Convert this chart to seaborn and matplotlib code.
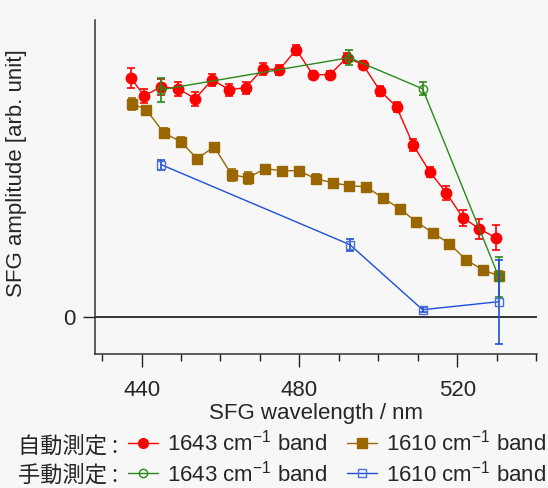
import matplotlib
matplotlib.use("Agg")
import matplotlib.pyplot as plt
import seaborn as sns
import pandas as pd
import numpy as np
from matplotlib.ticker import MultipleLocator, FixedLocator
from matplotlib.lines import Line2D

sns.set_theme(style="white")
plt.rcParams['font.family'] = ['Liberation Sans', 'Noto Sans CJK JP', 'DejaVu Sans']
plt.rcParams['mathtext.fontset'] = 'custom'
plt.rcParams['mathtext.rm'] = 'Liberation Sans'
plt.rcParams['mathtext.it'] = 'Liberation Sans'

# --- data (arb. units) ---
auto_1643_x = [437.2, 440.7, 445.0, 449.3, 453.6, 457.9, 462.2, 466.4, 470.7, 474.9, 479.2, 483.4,
               487.7, 492.0, 496.1, 500.4, 504.6, 508.8, 513.0, 517.2, 521.4, 525.6, 529.7]
auto_1643_y = [2.39, 2.21, 2.30, 2.28, 2.18, 2.37, 2.27, 2.29, 2.48, 2.47, 2.67, 2.42,
               2.42, 2.59, 2.52, 2.26, 2.10, 1.72, 1.45, 1.24, 0.99, 0.88, 0.79]
auto_1643_e = [0.10, 0.07, 0.08, 0.07, 0.07, 0.06, 0.06, 0.06, 0.06, 0.05, 0.05, 0.04,
               0.04, 0.05, 0.04, 0.05, 0.05, 0.06, 0.05, 0.07, 0.08, 0.10, 0.125]

auto_1610_x = [437.7, 441.2, 445.6, 449.9, 454.1, 458.4, 462.8, 467.0, 471.3, 475.6, 479.8, 484.1,
               488.4, 492.6, 496.8, 501.1, 505.4, 509.6, 513.8, 518.0, 522.2, 526.4, 530.5]
auto_1610_y = [2.13, 2.07, 1.84, 1.75, 1.58, 1.70, 1.42, 1.39, 1.48, 1.46, 1.46, 1.38,
               1.34, 1.31, 1.30, 1.19, 1.08, 0.95, 0.84, 0.73, 0.57, 0.47, 0.41]
auto_1610_e = [0.06, 0.03, 0.05, 0.05, 0.03, 0.03, 0.06, 0.06, 0.04, 0.03, 0.03, 0.05,
               0.03, 0.02, 0.02, 0.02, 0.02, 0.02, 0.02, 0.02, 0.02, 0.02, 0.05]

manual_1643_x = [445.0, 492.6, 511.2, 530.5]
manual_1643_y = [2.27, 2.59, 2.28, 0.40]
manual_1643_e = [0.12, 0.075, 0.065, 0.20]

manual_1610_x = [445.0, 492.8, 511.2, 530.5]
manual_1610_y = [1.52, 0.72, 0.07, 0.15]
manual_1610_e = [0.05, 0.06, 0.027, 0.42]

x_ticks = [440, 480, 520]
y_ticks = [0]

RED = '#ff0000'
BROWN = '#996600'
GREEN = '#2a8a1a'
BLUE = '#1f4fd8'
BLUE_M = '#4a6fd8'
BG = '#f7f7f7'
FS = 16

fig = plt.figure(figsize=(5.48, 4.88), dpi=100, facecolor=BG)
ax = fig.add_axes([95/548, 1-354/488, 442/548, 334/488])
ax.set_facecolor(BG)

def draw(xs, ys, es, color, marker, ms, mfc, mec, zo, label):
    df = pd.DataFrame({'x': xs, 'y': ys})
    ax.errorbar(xs, ys, yerr=es, fmt='none', ecolor=color, elinewidth=1.2,
                capsize=3, capthick=1.2, zorder=zo)
    sns.lineplot(data=df, x='x', y='y', ax=ax, color=color, lw=1.0, sort=False,
                 marker=marker, markersize=ms, markerfacecolor=mfc, markeredgecolor=mec,
                 markeredgewidth=1.0, zorder=zo + 0.1, label=label, legend=False)

draw(auto_1610_x, auto_1610_y, auto_1610_e, BROWN, 's', 7, BROWN, BROWN, 3, '1610a')
draw(auto_1643_x, auto_1643_y, auto_1643_e, RED, 'o', 7.5, RED, RED, 4, '1643a')
draw(manual_1643_x, manual_1643_y, manual_1643_e, GREEN, 'o', 6, 'none', GREEN, 5, '1643m')
draw(manual_1610_x, manual_1610_y, manual_1610_e, BLUE, 's', 6, 'none', BLUE_M, 6, '1610m')

ax.axhline(0, color='black', lw=1.1, zorder=2)

ax.set_xlim(428.2, 540.2)
ax.set_ylim(-0.373, 2.967)
ax.xaxis.set_major_locator(FixedLocator(x_ticks))
ax.xaxis.set_minor_locator(MultipleLocator(10))
ax.yaxis.set_major_locator(FixedLocator(y_ticks))
ax.tick_params(axis='x', which='major', direction='out', length=9, width=1, color='#222222',
               labelsize=FS, pad=10, bottom=True)
ax.tick_params(axis='x', which='minor', direction='out', length=5, width=1, color='#222222', bottom=True)
ax.tick_params(axis='y', which='major', direction='out', length=9, width=1, color='#222222',
               labelsize=FS, pad=5, left=True)

for s in ['top', 'right']:
    ax.spines[s].set_visible(False)
for s in ['left', 'bottom']:
    ax.spines[s].set_color('#333333')
    ax.spines[s].set_linewidth(1.1)

ax.set_xlabel('SFG wavelength / nm', fontsize=FS, labelpad=1)
ax.set_ylabel('SFG amplitude [arb. unit]', fontsize=FS)
ax.yaxis.set_label_coords(-0.154, 0.542)

# legend
h_red = Line2D([], [], color=RED, marker='o', ms=7, mfc=RED, mec=RED, lw=1.0)
h_green = Line2D([], [], color=GREEN, marker='o', ms=6, mfc='none', mec=GREEN, lw=1.0)
h_brown = Line2D([], [], color=BROWN, marker='s', ms=7, mfc=BROWN, mec=BROWN, lw=1.0)
h_blue = Line2D([], [], color=BLUE, marker='s', ms=6, mfc='none', mec=BLUE_M, lw=1.0)
lab = '1643 cm$^{-1}$ band'
lab2 = '1610 cm$^{-1}$ band'
leg = fig.legend(handles=[h_red, h_green, h_brown, h_blue], labels=[lab, lab, lab2, lab2],
                 ncol=2, loc='upper left', bbox_to_anchor=(128/548, 1-430/488),
                 frameon=False, fontsize=FS, handlelength=1.35, handletextpad=0.4,
                 columnspacing=0.9, labelspacing=0.2, borderpad=0, borderaxespad=0)

fig.text(18/548, 1-446/488, '自動測定 :', fontsize=16, va='center', ha='left',
         family=['Noto Sans CJK JP', 'DejaVu Sans'])
fig.text(18/548, 1-475/488, '手動測定 :', fontsize=16, va='center', ha='left',
         family=['Noto Sans CJK JP', 'DejaVu Sans'])

fig.savefig('out.png', dpi=100, facecolor=BG)
